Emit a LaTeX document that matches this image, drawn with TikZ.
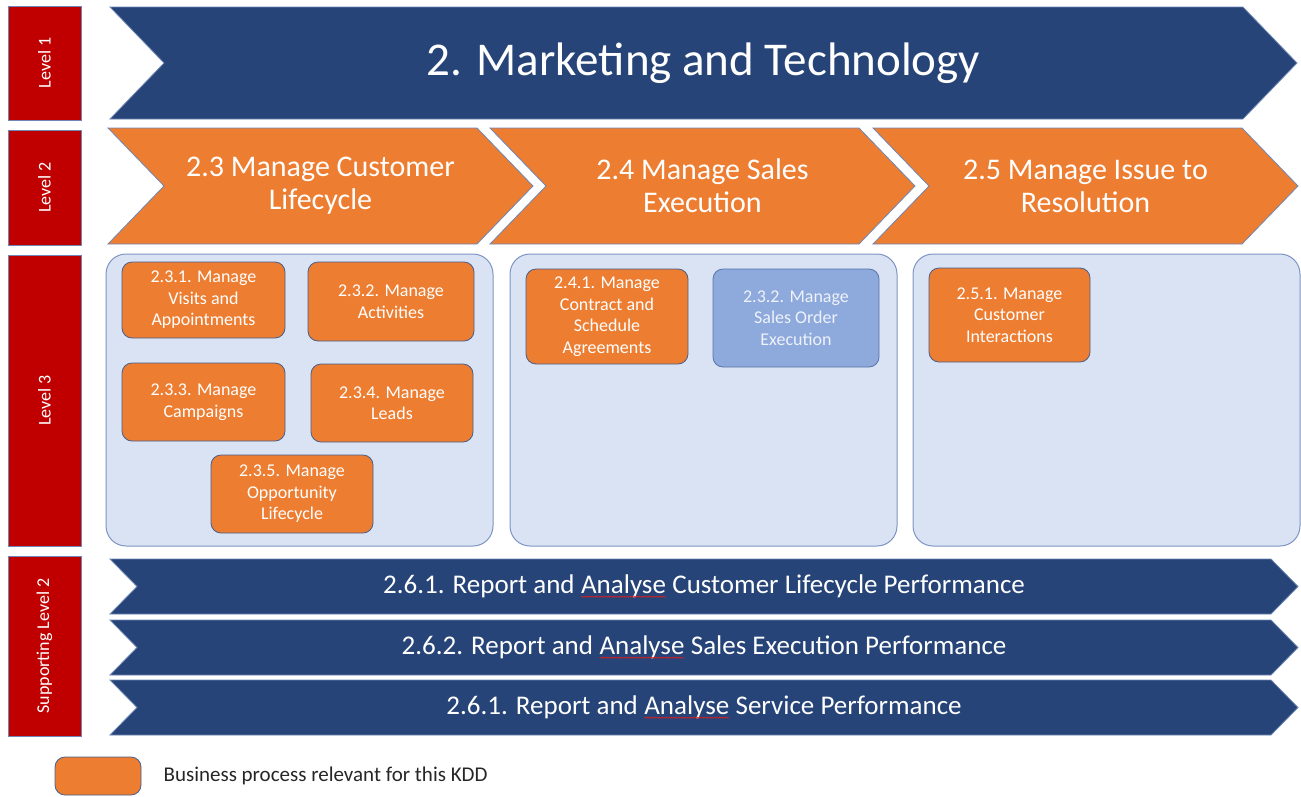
\documentclass[tikz,border=0pt]{standalone}
\usepackage{fontspec}
\setmainfont{Carlito}
\usetikzlibrary{shapes.symbols,positioning,decorations.pathmorphing}
\definecolor{kddnavy}{RGB}{38,68,120}
\definecolor{kddorange}{RGB}{237,125,49}
\definecolor{kddred}{RGB}{192,0,0}
\definecolor{kddedge}{RGB}{110,135,180}
\definecolor{kddpale}{RGB}{218,227,243}
\definecolor{kddframe}{RGB}{125,148,196}
\definecolor{kddblue}{RGB}{142,169,219}
\definecolor{kddblueedge}{RGB}{88,116,170}
\definecolor{kddprocedge}{RGB}{70,95,140}
\definecolor{kddbluetext}{RGB}{238,242,250}
\definecolor{kddtext}{RGB}{38,38,38}
\definecolor{kddspell}{RGB}{220,30,30}
\newcommand\fsz[2]{\fontsize{#1}{#2}\selectfont}
\newcommand\spellerr[1]{\tikz[baseline=(w.base)]{%
  \node[shape=rectangle, draw=none, fill=none, inner sep=0pt, outer sep=0pt, minimum size=0pt] (w) {#1};
  \draw[kddspell, line width=0.6pt, decorate, decoration={snake, amplitude=0.6pt, segment length=2.4pt}]
    ([yshift=-3pt]w.base west) -- ([yshift=-3pt]w.base east);}}
\tikzset{
  lvlbox/.style = {rectangle, fill=kddred, draw=kddedge, line width=0.8pt, text=white, rotate=90,
    minimum height=73pt, inner sep=0pt, font=\fsz{18}{21}},
  chev/.style = {signal, signal from=west, signal to=east, signal pointer angle=92,
    draw=kddedge, line width=0.8pt, inner sep=0pt, text=white, align=center},
  topchev/.style = {chev, fill=kddnavy, minimum height=112pt, font=\fsz{47}{55}},
  procchev/.style = {chev, fill=kddorange, minimum height=116pt, font=\fsz{30}{33}},
  supchev/.style = {chev, fill=kddnavy, minimum height=55pt, signal pointer angle=91, font=\fsz{27}{30}},
  group/.style = {rectangle, rounded corners=20pt, fill=kddpale, draw=kddframe, line width=1pt,
    minimum width=387pt, minimum height=292pt},
  proc/.style = {rectangle, rounded corners=10pt, fill=kddorange, draw=kddprocedge, line width=0.8pt,
    text=white, align=center, inner sep=0pt, font=\fsz{18}{21.5}},
  otherproc/.style = {proc, fill=kddblue, draw=kddblueedge, text=kddbluetext},
}
\begin{document}
\begin{tikzpicture}[x=1pt, y=-1pt]
\useasboundingbox (0,0) rectangle (1301,796);
% level labels
\node [lvlbox, minimum width=114pt] (L1) at (44.5,63) {Level 1};
\node [lvlbox, minimum width=115pt] (L2) at (44.5,187.5) {Level 2};
\node [lvlbox, minimum width=291pt] (L3) at (44.5,400.5) {Level 3};
\node [lvlbox, minimum width=180pt] (LS) at (44.5,646) {Supporting Level 2};
% level 1 and 2
\node [topchev, minimum width=1187pt] (mt) at (703.5,63) {2. Marketing and Technology};
\node [procchev, minimum width=425pt] (c23) at (320.5,186) {2.3 Manage Customer\\Lifecycle};
\node [procchev, minimum width=425pt] (c24) at (702.5,186) {2.4 Manage Sales\\Execution};
\node [procchev, minimum width=425pt] (c25) at (1085.5,186) {2.5 Manage Issue to\\Resolution};
% level 3 groups
\node [group] (g23) at (299.5,400) {};
\node [group] (g24) at (703.5,400) {};
\node [group] (g25) at (1106.5,400) {};
\node [proc, minimum width=163pt, minimum height=76pt] (p231) at (203.5,300) {2.3.1. Manage\\Visits and\\Appointments};
\node [proc, minimum width=166pt, minimum height=79pt] (p232) at (391,301.5) {2.3.2. Manage\\Activities};
\node [proc, minimum width=163pt, minimum height=78pt] (p233) at (203.5,402) {2.3.3. Manage\\Campaigns};
\node [proc, minimum width=162pt, minimum height=78pt] (p234) at (392,403) {2.3.4. Manage\\Leads};
\node [proc, minimum width=162pt, minimum height=78pt] (p235) at (292,494) {2.3.5. Manage\\Opportunity\\Lifecycle};
\node [proc, minimum width=162pt, minimum height=95pt] (p241) at (607,316.5) {2.4.1. Manage\\Contract and\\Schedule\\Agreements};
\node [otherproc, minimum width=166pt, minimum height=98pt] (p242) at (796,318) {2.3.2. Manage\\Sales Order\\Execution};
\node [proc, minimum width=161pt, minimum height=94pt] (p251) at (1009.5,315) {2.5.1. Manage\\Customer\\Interactions};
% supporting level 2
\node [supchev, minimum width=1188pt] (s1) at (704,586.5) {2.6.1. Report and \spellerr{Analyse} Customer Lifecycle Performance};
\node [supchev, minimum width=1188pt] (s2) at (704,647.5) {2.6.2. Report and \spellerr{Analyse} Sales Execution Performance};
\node [supchev, minimum width=1188pt] (s3) at (704,707.5) {2.6.1. Report and \spellerr{Analyse} Service Performance};
% legend
\node [proc, minimum width=86pt, minimum height=38pt] (key) at (98,776) {};
\node [right=22pt of key, text=kddtext, font=\fsz{21}{24}, inner sep=0pt] (keytext) {Business process relevant for this KDD};
\end{tikzpicture}
\end{document}
